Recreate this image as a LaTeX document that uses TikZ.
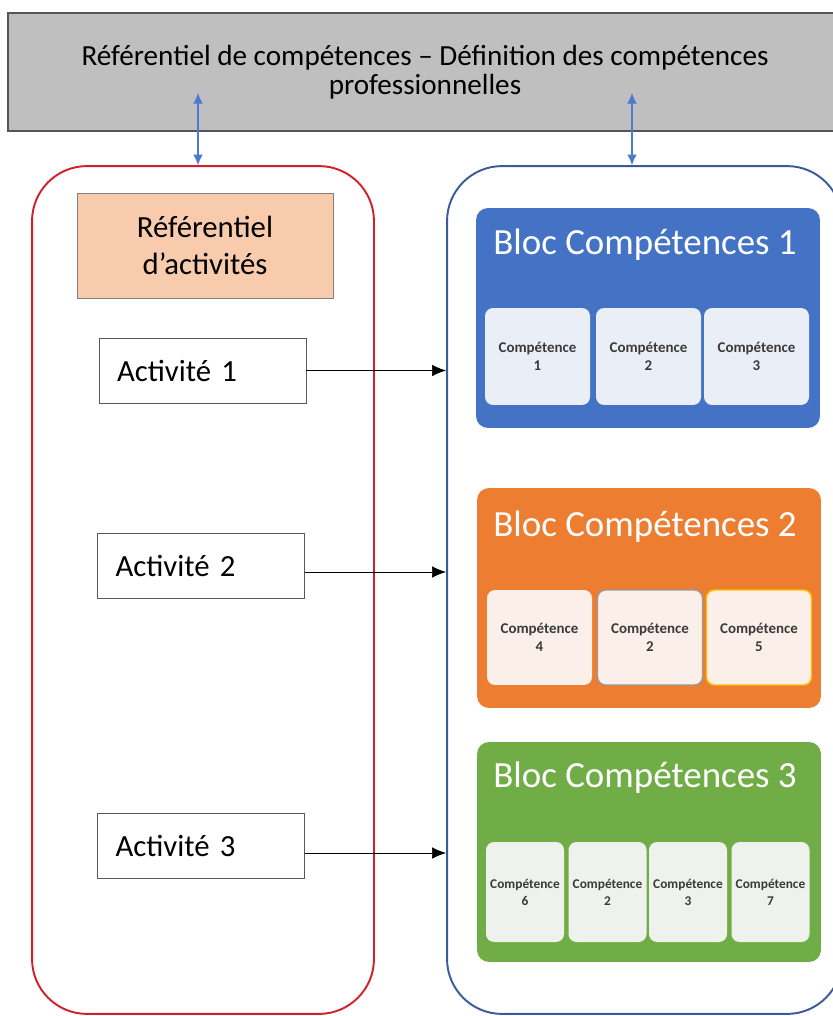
\documentclass[tikz,border=0pt]{standalone}
\usepackage{fontspec}
\setmainfont{Carlito}
\usetikzlibrary{arrows.meta}

\definecolor{fondgris}{HTML}{BFBFBF}
\definecolor{bordgris}{HTML}{555555}
\definecolor{rouge}{HTML}{D0212B}
\definecolor{bleufonce}{HTML}{3B5A9A}
\definecolor{bleulien}{HTML}{4A7BD0}
\definecolor{saumon}{HTML}{F8CBAD}
\definecolor{blocbleu}{HTML}{4472C4}
\definecolor{blocorange}{HTML}{ED7D31}
\definecolor{blocvert}{HTML}{70AD47}
\definecolor{compbleu}{HTML}{E9EEF7}
\definecolor{comporange}{HTML}{FBF0E9}
\definecolor{compvert}{HTML}{EFF2EC}
\definecolor{jaune}{HTML}{FFC000}
\definecolor{texte}{HTML}{3A3A3A}

\begin{document}
\begin{tikzpicture}[x=0.02cm,y=-0.02cm,>={Latex[length=8pt,width=6.5pt]},
bandeau/.style={draw=bordgris,fill=fondgris,line width=0.8pt,minimum width=16.68cm,minimum height=2.36cm,align=center,font=\fontsize{16.6}{16.8}\selectfont},
lien/.style={{Latex[length=6pt,width=5.5pt]}-{Latex[length=6pt,width=5.5pt]},draw=bleulien,line width=0.6pt},
cadre/.style={rounded corners=1.1cm,line width=1.1pt,minimum height=16.96cm},
titreact/.style={draw=gray,fill=saumon,minimum width=5.12cm,minimum height=2.1cm,align=center,font=\fontsize{17.5}{21}\selectfont},
activ/.style={draw=gray!70!black,fill=white,minimum height=1.3cm,text width=3.42cm,inner xsep=0.36cm,align=left,font=\fontsize{17.5}{21}\selectfont},
bloc/.style={rounded corners=0.24cm,minimum width=6.88cm,minimum height=4.4cm},
titre/.style={text=white,font=\fontsize{21}{24}\selectfont},
comp/.style={rounded corners=0.16cm,minimum width=2.1cm,minimum height=1.94cm,inner sep=0pt,align=center,text=texte,font=\fontsize{8.5}{10.2}\selectfont\bfseries},
petit/.style={minimum width=1.56cm,minimum height=2cm,font=\fontsize{7.6}{9.6}\selectfont\bfseries}]

\useasboundingbox (0,0) rectangle (832,1016);

% bandeau du haut
\node[bandeau] (refcomp) at (425,72) {Référentiel de compétences – Définition des compétences\\professionnelles};

% les deux cadres
\node[cadre,draw=rouge,minimum width=6.84cm] (gauche) at (203,590) {};
\node[cadre,draw=bleufonce,minimum width=7.9cm] (droite) at (644.5,590) {};

\coordinate (hg) at (198,93);
\coordinate (hd) at (632,93);
\draw[lien] (hg) -- (hg |- gauche.north);
\draw[lien] (hd) -- (hd |- droite.north);

% referentiel d'activites
\node[titreact] (refact) at (205,245.5) {Référentiel\\d’activités};
\node[activ] (act1) at (202.5,370.5) {Activité 1};
\node[activ] (act2) at (201,565.5) {Activité 2};
\node[activ] (act3) at (201,845.5) {Activité 3};

% blocs de competences
\node[bloc,fill=blocbleu] (bloc1) at (648,318) {};
\node[titre] (t1) at (645,245) {Bloc Compétences 1};
\node[comp,fill=compbleu] (c11) at (537.5,356.5) {Compétence\\1};
\node[comp,fill=compbleu] (c12) at (648.5,356.5) {Compétence\\2};
\node[comp,fill=compbleu] (c13) at (756.5,356.5) {Compétence\\3};

\node[bloc,fill=blocorange] (bloc2) at (649,598) {};
\node[titre] (t2) at (645,527) {Bloc Compétences 2};
\node[comp,fill=comporange,minimum height=1.9cm] (c21) at (539.5,637.5) {Compétence\\4};
\node[comp,fill=comporange,minimum height=1.9cm,draw=gray!80,line width=0.8pt] (c22) at (650,637.5) {Compétence\\2};
\node[comp,fill=comporange,minimum height=1.9cm,draw=jaune,line width=0.8pt] (c23) at (759,637.5) {Compétence\\5};

\node[bloc,fill=blocvert] (bloc3) at (649,852) {};
\node[titre] (t3) at (645,778) {Bloc Compétences 3};
\node[comp,petit,fill=compvert] (c31) at (525,892) {Compétence\\6};
\node[comp,petit,fill=compvert] (c32) at (607.5,892) {Compétence\\2};
\node[comp,petit,fill=compvert] (c33) at (688,892) {Compétence\\3};
\node[comp,petit,fill=compvert] (c34) at (770.5,892) {Compétence\\7};

% fleches
\coordinate (s1) at (act1.east);
\coordinate (s2) at ([yshift=-0.13cm]act2.east);
\coordinate (s3) at ([yshift=-0.15cm]act3.east);
\draw[->] (s1) -- (s1 -| droite.west);
\draw[->] (s2) -- (s2 -| droite.west);
\draw[->] (s3) -- (s3 -| droite.west);

\end{tikzpicture}
\end{document}
